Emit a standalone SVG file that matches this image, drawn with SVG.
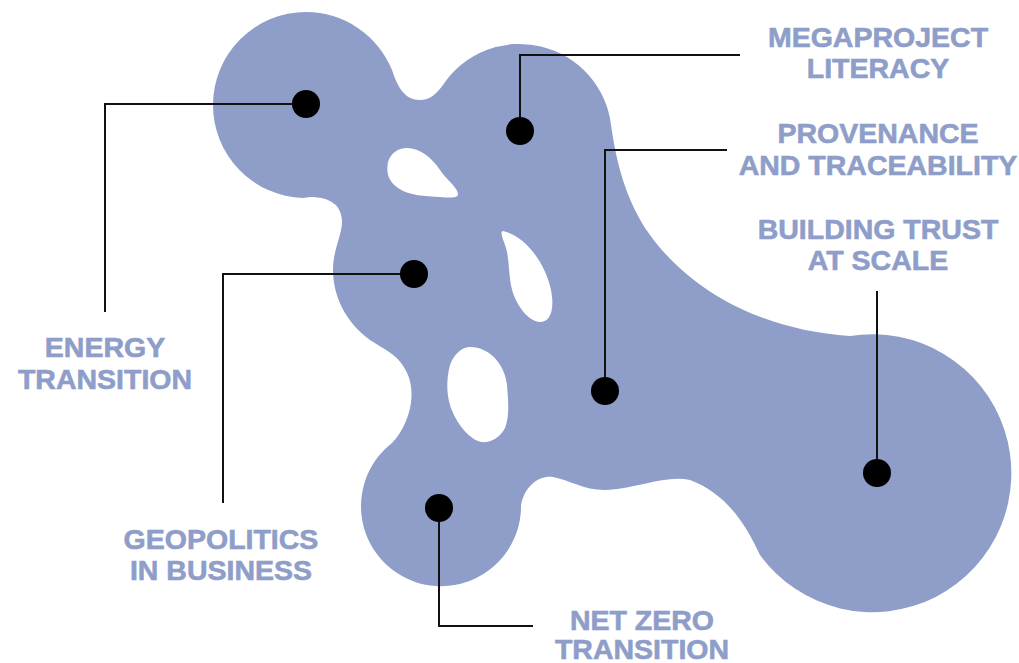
<svg xmlns="http://www.w3.org/2000/svg" width="1019" height="663" viewBox="0 0 1019 663">
<style>
.blob{fill:#8e9ec9}
.hole{fill:#ffffff}
.dot{fill:#000000}
.conn{fill:none;stroke:#111111;stroke-width:2}
.lbl{font-family:"Liberation Sans",Arial,sans-serif;font-weight:bold;font-size:28.5px;fill:#8e9ec9;stroke:#8e9ec9;stroke-width:0.6;text-anchor:middle}
</style>
<rect width="1019" height="663" fill="#ffffff"/>
<g id="blob">
<path class="blob" d="M 306,12 A 93 93 0 0 1 392,70 C 398,88 405,100 420,100 C 430,100 436,94 443,85 A 92 92 0 0 1 611,125 C 616,160 625,200 650,235 C 690,290 760,330 850,336 A 139 139 0 1 1 760,555 C 748,530 730,495 690,480 C 665,475 640,488 607,490 C 585,491 570,480 553,477 C 540,475 525,485 521,505 A 80 80 0 1 1 392,443 C 405,430 418,400 408,375 C 400,355 385,350 370,340 C 345,322 333,295 333,270 C 333,250 342,235 342,222 C 342,205 330,197 310,197 L 303,198 A 93 93 0 0 1 213,105 A 93 93 0 0 1 306,12 Z"/>
<path class="hole" d="M 407,148 C 420,148 432,158 440,170 C 447,180 458,188 458,194 C 458,198 452,198 440,197 C 425,196 410,196 398,188 C 388,181 386,172 388,162 C 391,153 398,148 407,148 Z"/>
<path class="hole" d="M 503,231 C 525,236 545,262 551,290 C 555,310 550,322 540,322 C 530,322 518,308 513,293 C 508,278 510,258 505,245 C 502,237 500,231 503,231 Z"/>
<path class="hole" d="M 470,347 C 490,347 505,365 507,385 C 508,400 510,415 505,428 C 500,438 490,443 482,442 C 472,441 460,428 453,413 C 446,398 446,380 450,365 C 454,354 462,347 470,347 Z"/>
</g>
<g id="connectors">
<polyline class="conn" points="306,104 105,104 105,312"/>
<polyline class="conn" points="520,131 520,55 740,55"/>
<polyline class="conn" points="605,390 605,150 727,150"/>
<polyline class="conn" points="414,274 223,274 223,503"/>
<polyline class="conn" points="439,508 439,626 533,626"/>
<polyline class="conn" points="877,473 877,291"/>
</g>
<g id="energy-transition">
<circle class="dot" cx="306" cy="104" r="14"/>
<text class="lbl" x="105" y="357">ENERGY</text>
<text class="lbl" x="105" y="389">TRANSITION</text>
</g>
<g id="megaproject-literacy">
<circle class="dot" cx="520" cy="131" r="14"/>
<text class="lbl" x="878" y="47">MEGAPROJECT</text>
<text class="lbl" x="878" y="78">LITERACY</text>
</g>
<g id="provenance-traceability">
<circle class="dot" cx="605" cy="391" r="14"/>
<text class="lbl" x="878" y="143">PROVENANCE</text>
<text class="lbl" x="878" y="175">AND TRACEABILITY</text>
</g>
<g id="building-trust">
<circle class="dot" cx="877" cy="473" r="14"/>
<text class="lbl" x="878" y="239">BUILDING TRUST</text>
<text class="lbl" x="878" y="270">AT SCALE</text>
</g>
<g id="geopolitics">
<circle class="dot" cx="414" cy="274" r="14"/>
<text class="lbl" x="221" y="549">GEOPOLITICS</text>
<text class="lbl" x="221" y="580">IN BUSINESS</text>
</g>
<g id="net-zero">
<circle class="dot" cx="439" cy="508" r="14"/>
<text class="lbl" x="642" y="630">NET ZERO</text>
<text class="lbl" x="642" y="659">TRANSITION</text>
</g>
</svg>
